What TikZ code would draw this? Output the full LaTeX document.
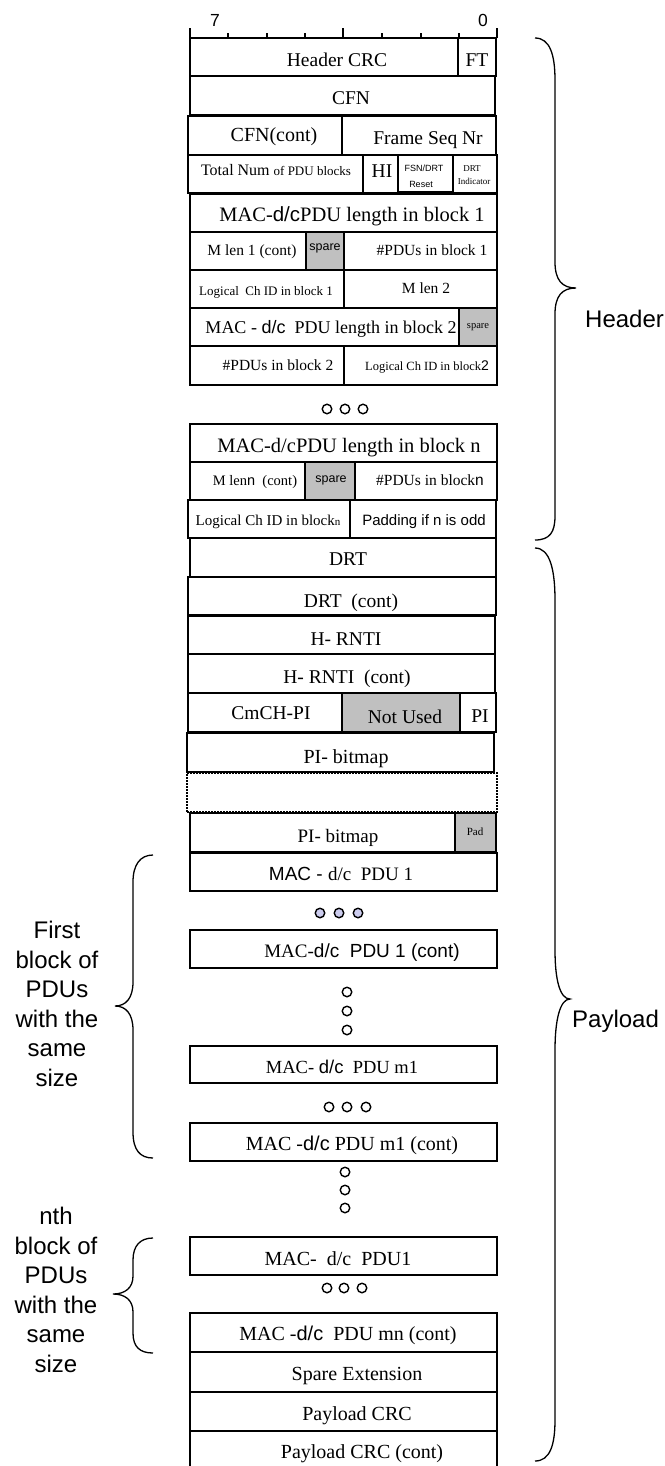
\documentclass[tikz,border=0pt]{standalone}
\usepackage{fontspec}
\setmainfont{Liberation Serif}
\setsansfont{Liberation Sans}
\newcommand\fs[1]{\fontsize{#1}{#1}\selectfont}
\newcommand\sfp[1]{{\sffamily #1}}
\definecolor{cellgray}{RGB}{192,192,192}
\definecolor{lavender}{RGB}{204,204,238}
\newcommand{\pcell}[6][]{\node[cellbox,#1,minimum width={(#4-#2)*1pt},minimum height={(#5-#3)*1pt}] (#6) at ({(#2+#4)/2},{(#3+#5)/2}) {};}
\tikzset{
  cellbox/.style={draw=black, fill=white, line width=1.3pt, rectangle, inner sep=0pt, outer sep=0pt},
  graycell/.style={fill=cellgray},
  dotcell/.style={line width=2pt, dash pattern=on 2pt off 1pt},
  txt/.style={inner sep=0pt, outer sep=0pt, anchor=base},
  ring/.style={circle, draw=black, fill=white, line width=1.4pt, minimum size=9.5pt, inner sep=0pt},
  bluering/.style={ring, fill=lavender},
  brace/.style={draw=black, line width=1.3pt},
  side/.style={inner sep=0pt, font=\sffamily\fontsize{24}{29.5}\selectfont},
  rulerline/.style={draw=black, line width=1.4pt}
}
\begin{document}
\begin{tikzpicture}[x=1pt,y=-1pt]
\useasboundingbox (0,0) rectangle (664,1466);
% ruler
\draw[rulerline] (190,38) -- (497,38);
\foreach \xx in {228,267,305,382,421,459} \draw[rulerline] (\xx,38) -- (\xx,33);
\foreach \xx in {190,343,497} \draw[rulerline] (\xx,38) -- (\xx,28);
\node[txt] (bit7) at (215,27) {\sffamily\fs{17.5}7};
\node[txt] (bit0) at (483,27) {\sffamily\fs{17.5}0};
% header rows
\pcell{190}{38}{458}{76}{hcrc}
\pcell{458}{38}{496}{76}{ft}
\pcell{190}{76}{495}{115}{cfn}
\pcell{188}{116}{342}{155}{cfnc}
\pcell{342}{116}{496}{155}{fsn}
\pcell{188}{155}{363}{193}{tnum}
\pcell{363}{155}{398}{193}{hi}
\pcell{398}{155}{453}{192}{fsnr}
\pcell{453}{155}{497}{193}{drti}
\pcell{190}{194}{497}{232}{len1}
\pcell{190}{232}{306}{270}{ml1}
\pcell[graycell]{306}{232}{344}{270}{sp1}
\pcell{344}{232}{497}{270}{np1}
\pcell{190}{270}{344}{308}{lc1}
\pcell{344}{270}{497}{308}{ml2}
\pcell{190}{308}{459}{346}{len2}
\pcell[graycell]{459}{308}{497}{346}{sp2}
\pcell{190}{346}{344}{385}{np2}
\pcell{344}{346}{497}{385}{lc2}
\pcell{190}{424}{497}{462}{lenn}
\pcell{190}{462}{305}{500}{mln}
\pcell[graycell]{305}{462}{355}{500}{spn}
\pcell{355}{462}{497}{500}{npn}
\pcell{188}{500}{350}{538}{lcn}
\pcell{350}{500}{496}{538}{padn}
% payload rows
\pcell{190}{538}{496}{577}{drt}
\pcell{188}{577}{496}{615}{drtc}
\pcell{188}{616}{495}{654}{hr}
\pcell{188}{654}{495}{693}{hrc}
\pcell{188}{693}{342}{732}{cm}
\pcell[graycell]{342}{693}{460}{732}{nu}
\pcell{460}{693}{496}{732}{pi}
\pcell{187}{733}{494}{772}{pib}
\pcell[dotcell]{187}{773}{497}{812}{dotbox}
\pcell{190}{813}{455}{852}{pib2}
\pcell[graycell]{455}{813}{496}{852}{padc}
\pcell{190}{853}{497}{891}{pdu1}
\pcell{190}{930}{497}{968}{pdu1c}
\pcell{190}{1046}{497}{1083}{pdum}
\pcell{190}{1123}{497}{1161}{pdumc}
\pcell{190}{1237}{497}{1275}{pdun}
\pcell{190}{1313}{497}{1352}{pdumn}
\pcell{190}{1352}{497}{1392}{spx}
\pcell{190}{1392}{497}{1431}{pcrc}
\pcell{190}{1431}{497}{1476}{pcrcc}
% ellipsis dots
\node[ring] (da1) at (327,409) {};
\node[ring] (da2) at (345,409) {};
\node[ring] (da3) at (363,409) {};
\node[bluering] (db1) at (320,913) {};
\node[bluering] (db2) at (339,913) {};
\node[bluering] (db3) at (358,913) {};
\node[ring] (dc1) at (347,992) {};
\node[ring] (dc2) at (347,1011) {};
\node[ring] (dc3) at (347,1030) {};
\node[ring] (dd1) at (329,1107) {};
\node[ring] (dd2) at (347,1107) {};
\node[ring] (dd3) at (366,1107) {};
\node[ring] (de1) at (345,1172) {};
\node[ring] (de2) at (345,1190) {};
\node[ring] (de3) at (345,1208) {};
\node[ring] (df1) at (327,1288) {};
\node[ring] (df2) at (344,1288) {};
\node[ring] (df3) at (362,1288) {};
% texts
\node[txt] (thcrc) at (337,67) {\fs{19.5}Header CRC};
\node[txt] (tft) at (477,67) {\fs{19.5}FT};
\node[txt] (tcfn) at (351,105) {\fs{19.5}CFN};
\node[txt] (tcfnc) at (274,142) {\fs{20}CFN(cont)};
\node[txt] (tfsn) at (428,145) {\fs{19.5}Frame Seq Nr};
\node[txt] (ttnum) at (276,176) {\fs{16}Total Num {\fs{13}of PDU blocks}};
\node[txt] (thi) at (382,178) {\fs{19.5}HI};
\node[txt] (tfsnr1) at (424,172) {\sffamily\fs{9}FSN/DRT};
\node[txt] (tfsnr2) at (421,188) {\sffamily\fs{9}Reset};
\node[txt] (tdrti1) at (472,172) {\fs{9}DRT};
\node[txt] (tdrti2) at (474,185) {\fs{9}Indicator};
\node[txt] (tlen1) at (352,222) {\fs{20.5}MAC-\sfp{d/c}PDU length in block 1};
\node[txt] (tml1) at (252,255) {\fs{15.5}M len 1 (cont)};
\node[txt] (tsp1) at (325,250) {\sffamily\fs{12.5}spare};
\node[txt] (tnp1) at (432,255) {\fs{15.5}\#PDUs in block 1};
\node[txt] (tlc1) at (266,295) {\fs{13}Logical\ \ Ch ID in block 1};
\node[txt] (tml2) at (426,293) {\fs{15.5}M len 2};
\node[txt] (tlen2) at (331,333) {\fs{18}MAC - \sfp{d/c}\ \ PDU length in block 2};
\node[txt] (tsp2) at (478,328) {\fs{10.5}spare};
\node[txt] (tnp2) at (278,370) {\fs{15.5}\#PDUs in block 2};
\node[txt] (tlc2) at (427,370) {\fs{12.5}Logical Ch ID in block\sfp{\fs{14}2}};
\node[txt] (tlenn) at (349,452) {\fs{20.5}MAC-d/cPDU length in block n};
\node[txt] (tmln) at (255,485) {\fs{14.5}M len\sfp{n}\ \ (cont)};
\node[txt] (tspn) at (331,482) {\sffamily\fs{12.5}spare};
\node[txt] (tnpn) at (430,485) {\fs{15.5}\#PDUs in block\sfp{n}};
\node[txt] (tlcn) at (268,525) {\fs{15}Logical Ch ID in block{\fs{11}n}};
\node[txt] (tpadn) at (424,525) {\sffamily\fs{15}Padding if n is odd};
\node[txt] (tdrt) at (348,565) {\fs{19.5}DRT};
\node[txt] (tdrtc) at (351,607) {\fs{19.5}DRT\ \ (cont)};
\node[txt] (thr) at (346,645) {\fs{19.5}H- RNTI};
\node[txt] (thrc) at (347,683) {\fs{19.5}H- RNTI\ \ (cont)};
\node[txt] (tcm) at (271,719) {\fs{19.5}CmCH-PI};
\node[txt] (tnu) at (405,723) {\fs{19.5}Not Used};
\node[txt] (tpi) at (480,722) {\fs{19.5}PI};
\node[txt] (tpib) at (346,763) {\fs{20}PI- bitmap};
\node[txt] (tpib2) at (338,842) {\fs{19}PI- bitmap};
\node[txt] (tpadc) at (475,835) {\fs{11}Pad};
\node[txt] (tpdu1) at (341,880) {\fs{19}\sfp{MAC - }d/c\ \ PDU 1};
\node[txt] (tpdu1c) at (362,957) {\fs{19}MAC-\sfp{d/c\ \ PDU 1 (cont)}};
\node[txt] (tpdum) at (342,1073) {\fs{18.5}MAC- \sfp{d/c}\ \ PDU m1};
\node[txt] (tpdumc) at (352,1150) {\fs{20}MAC -\sfp{d/c} PDU m1 (cont)};
\node[txt] (tpdun) at (338,1265) {\fs{20}MAC-\ \ d/c\ \ PDU1};
\node[txt] (tpdumn) at (348,1340) {\fs{20}MAC -\sfp{d/c}\ \ PDU mn (cont)};
\node[txt] (tspx) at (357,1380) {\fs{20}Spare Extension};
\node[txt] (tpcrc) at (357,1420) {\fs{20}Payload CRC};
\node[txt] (tpcrcc) at (362,1458) {\fs{20}Payload CRC (cont)};
% braces
\draw[brace] (535,38) .. controls (550,38) and (555,55) .. (555,80) -- (555,262) .. controls (555,280) and (562,288) .. (576,288) .. controls (562,288) and (555,296) .. (555,314) -- (555,516) .. controls (555,532) and (550,540) .. (535,540);
\draw[brace] (535,548) .. controls (550,548) and (555,570) .. (555,600) -- (555,950) .. controls (555,980) and (560,999) .. (570,999) .. controls (560,999) and (555,1020) .. (555,1050) -- (555,1420) .. controls (555,1445) and (550,1461) .. (535,1461);
\draw[brace] (153,855) .. controls (140,855) and (133,865) .. (133,882) -- (133,982) .. controls (133,998) and (126,1006) .. (115,1006) .. controls (126,1006) and (133,1014) .. (133,1030) -- (133,1132) .. controls (133,1150) and (140,1158) .. (153,1158);
\draw[brace] (153,1238) .. controls (140,1238) and (133,1246) .. (133,1260) -- (133,1276) .. controls (133,1288) and (125,1294) .. (113,1294) .. controls (125,1294) and (133,1300) .. (133,1312) -- (133,1333) .. controls (133,1347) and (140,1353) .. (153,1353);
% side labels
\node[side, anchor=base west] (lblhdr) at (585,327) {Header};
\node[side, anchor=base west] (lblpay) at (572,1027) {Payload};
\node[side, align=center] (lblfirst) at (57,1004) {First\\block of\\PDUs\\with the\\same\\size};
\node[side, align=center] (lblnth) at (56,1290) {nth\\block of\\PDUs\\with the\\same\\size};
\end{tikzpicture}
\end{document}
